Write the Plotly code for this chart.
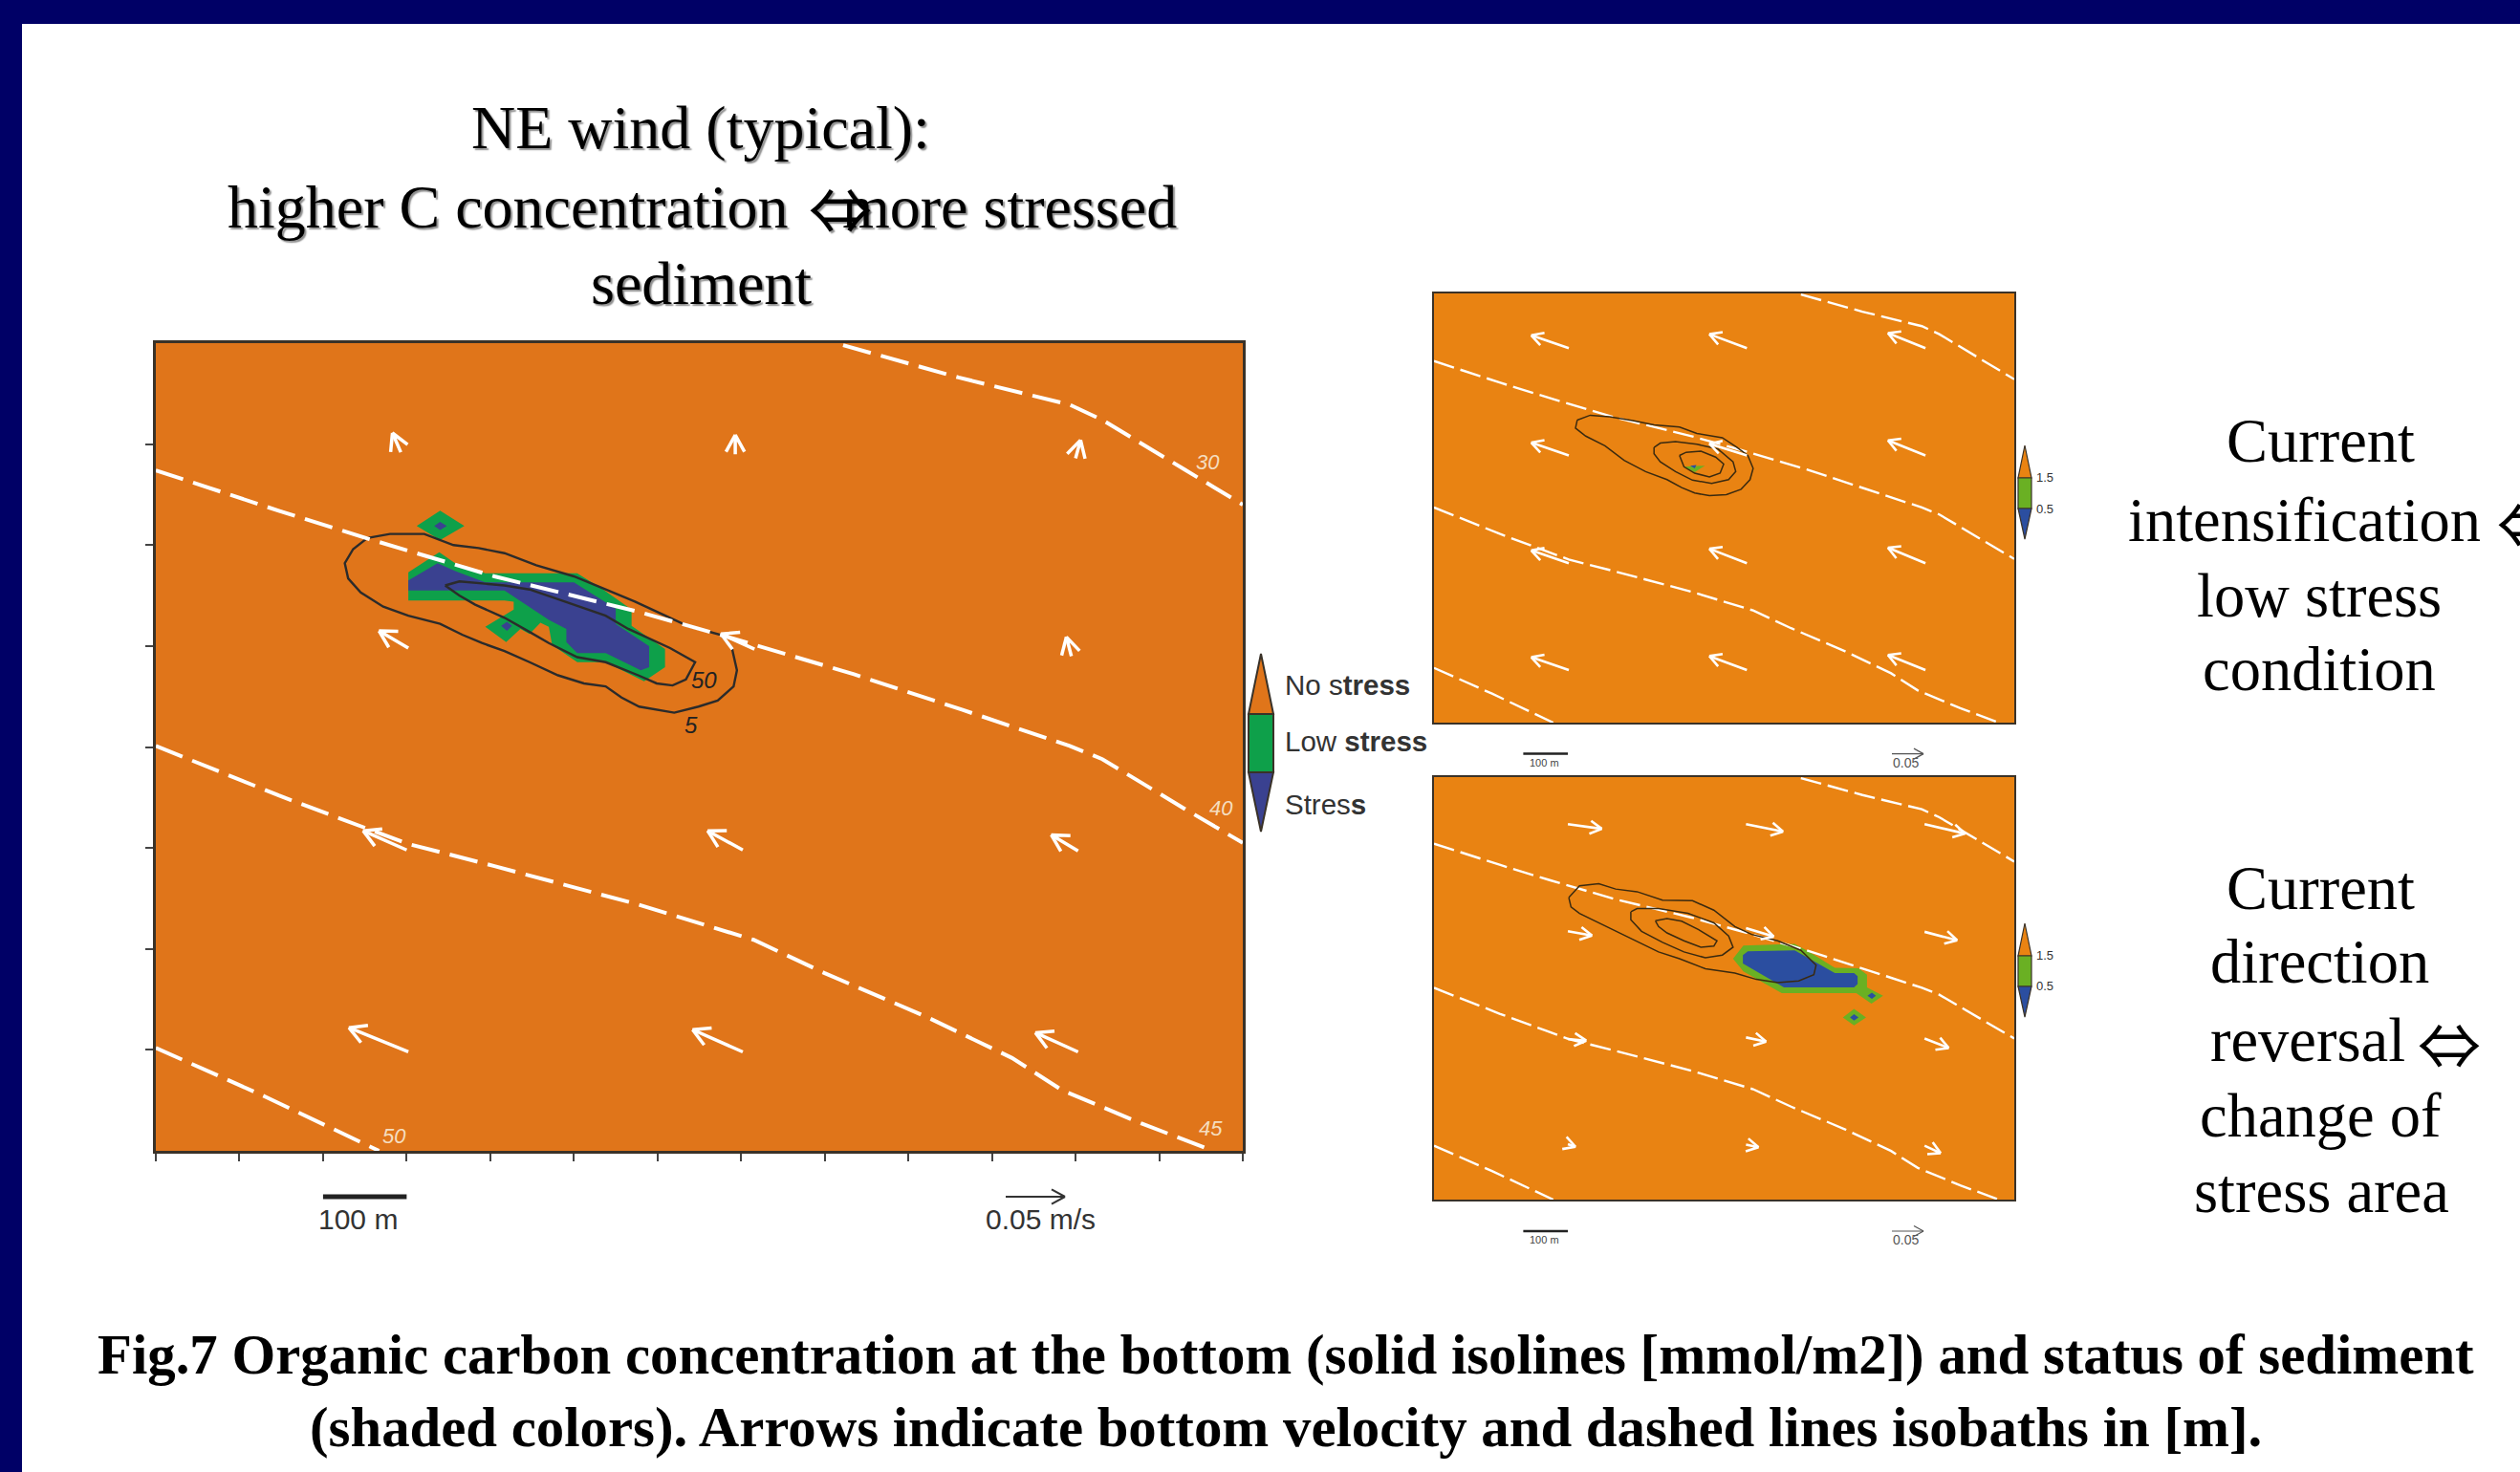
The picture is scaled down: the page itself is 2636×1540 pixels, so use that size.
import plotly.graph_objects as go

W, H = 2636, 1540
NAVY = "#000066"

# ---- shared isobaths (x, y in metres) ----
ISO_30 = [(822,798),(960,766),(1093,739),(1132,724),(1230,675),(1300,640)]
ISO_40 = [(0,674),(147,634),(259,605),(405,569),(577,534),(680,510),(835,472),(964,437),(1093,401),(1132,388),(1230,339),(1300,305)]
ISO_45 = [(0,401),(147,352),(250,320),(302,304),(405,282),(577,244),(715,209),(800,176),(921,133),(1024,92),(1084,60),(1179,27),(1265,0)]
ISO_50 = [(0,102),(130,54),(267,0)]
ISOBATHS = [ISO_30, ISO_40, ISO_45, ISO_50]
ISO_LABELS = [("30",1258,682),("40",1274,339),("45",1262,22),("50",285,15)]

# ---- main panel ----
MAIN_C5 = [(253,607),(280,611),(321,611),(356,600),(386,597),(417,592),(455,580),(500,569),(538,556),(573,544),(607,531),(636,520),(676,511),(689,498),(695,476),(691,460),(672,446),(649,440),(620,434),(578,440),(557,449),(538,460),(512,463),(481,471),(447,484),(417,495),(390,503),(367,511),(340,522),(302,530),(272,539),(245,553),(230,567),(226,582),(236,596),(253,607)]
MAIN_C50 = [(346,560),(363,564),(417,560),(447,556),(500,541),(538,530),(565,517),(588,508),(615,498),(645,484),(634,467),(618,461),(599,463),(577,471),(538,484),(504,489),(470,503),(447,514),(417,528),(382,541),(363,550),(346,560)]
MAIN_GREEN = [
    [(302,573),(339,593),(358,582),(394,572),(504,572),(535,556),(569,536),(569,520),(609,497),(609,479),(584,465),(538,484),(504,484),(474,501),(470,519),(460,523),(447,512),(436,517),(419,504),(394,519),(428,536),(428,544),(417,545),(302,545)],
    [(312,619),(340,634),(369,619),(340,605)],
]
MAIN_BLUE = [
    [(302,565),(337,582),(359,574),(394,563),(500,563),(550,537),(550,522),(590,500),(590,479),(580,476),(538,493),(504,493),(491,504),(491,517),(470,526),(432,547),(417,555),(302,555)],
    [(333,619),(340,623),(348,619),(340,615)],
    [(413,520),(420,524),(426,520),(420,515)],
]
MAIN_ARROW_X = [293,693,1100, 302,716,1095, 300,702,1103, 302,702,1103]
MAIN_ARROW_Y = [692,690,686, 498,497,490, 298,298,297, 98,98,98]
MAIN_ARROW_U = [-10,0,6, -35,-40,-6, -52,-42,-32, -71,-60,-51]
MAIN_ARROW_V = [19,19,18, 17,15,19, 19,19,16, 24,22,19]

# ---- upper right panel ----
UP_C1 = [(321,564),(350,573),(393,570),(445,563),(493,555),(550,551),(589,539),(646,531),(679,513),(703,498),(715,474),(708,453),(688,435),(655,425),(617,423),(584,428),(555,438),(522,453),(474,468),(426,489),(383,516),(340,534),(317,549),(321,564)]
UP_C2 = [(493,513),(507,521),(541,524),(589,519),(636,510),(670,486),(676,468),(660,453),(622,446),(579,452),(541,468),(507,486),(493,501),(493,513)]
UP_C3 = [(550,498),(565,504),(598,506),(631,495),(649,482),(641,465),(617,458),(584,465),(560,477),(550,498)]
UP_GREEN = [[(560,477),(607,479),(584,467)]]
UP_BLUE = [[(574,479),(588,480),(584,474)]]
UP_ARROW_X = [302,701,1101]*4
UP_ARROW_Y = [698]*3 + [498]*3 + [297]*3 + [98]*3
UP_ARROW_U = [-84]*12
UP_ARROW_V = [24,26,28, 24,22,28, 24,27,29, 24,26,28]

# ---- lower right panel ----
LOW_C1 = [(302,572),(326,594),(369,598),(407,588),(455,583),(512,567),(579,566),(627,548),(674,517),(712,502),(770,490),(822,472),(856,444),(851,426),(817,414),(770,411),(722,417),(674,429),(608,437),(550,456),(503,469),(445,493),(379,520),(326,542),(307,554),(302,572)]
LOW_C2 = [(441,545),(455,551),(503,551),(569,542),(627,524),(660,499),(670,478),(646,463),(608,458),(560,469),(512,487),(465,508),(441,530),(441,545)]
LOW_C3 = [(496,528),(522,532),(555,527),(593,511),(634,490),(627,480),(598,478),(560,490),(522,505),(503,517),(496,528)]
LOW_GREEN = [
    [(670,456),(693,481),(808,484),(841,469),(898,439),(951,438),(970,426),(970,402),(1006,386),(980,371),(946,391),(779,391),(693,432)],
    [(916,345),(941,361),(968,345),(941,330)],
]
LOW_BLUE = [
    [(692,463),(703,470),(808,472),(898,429),(941,429),(949,423),(949,408),(941,402),(784,402),(692,447)],
    [(971,386),(981,392),(990,386),(981,380)],
    [(932,345),(941,351),(951,345),(941,339)],
]
LOW_ARROW_X = [300,699,1099, 300,699,1099, 300,699,1099, 300,699,1099]
LOW_ARROW_Y = [711,711,711, 508,514,507, 304,307,305, 105,104,102]
LOW_ARROW_U = [76,83,91, 54,62,73, 41,45,54, 17,28,36]
LOW_ARROW_V = [-9,-14,-18, -8,-16,-16, -3,-8,-18, -5,-5,-14]

# ---- text ----
CAPTION_1 = "Fig.7 Organic carbon concentration at the bottom (solid isolines [mmol/m2]) and status of sediment"
CAPTION_2 = "(shaded colors). Arrows indicate bottom velocity and dashed lines isobaths in [m]."

# panel geometry in page pixels: left, right, top, bottom
PANELS = {
    "x":  dict(box=(163, 1300, 359, 1204), orange="#E0751A", green="#0EA04A", blue="#3A4190"),
    "x2": dict(box=(1500, 2107, 307, 756), orange="#E98312", green="#6AB023", blue="#2B4EA0"),
    "x3": dict(box=(1500, 2107, 813, 1255), orange="#E98312", green="#6AB023", blue="#2B4EA0"),
}

fig = go.Figure()


def xy(points):
    return [p[0] for p in points], [p[1] for p in points]


def add_poly(ax, points, color):
    x, y = xy(points)
    fig.add_trace(go.Scatter(x=x, y=y, mode="lines", fill="toself", fillcolor=color,
                             line=dict(width=0, color=color), xaxis=ax[0], yaxis=ax[1],
                             hoverinfo="skip", showlegend=False))


def add_line(ax, points, color, width, dash=None):
    x, y = xy(points)
    fig.add_trace(go.Scatter(x=x, y=y, mode="lines", line=dict(color=color, width=width, dash=dash),
                             xaxis=ax[0], yaxis=ax[1], hoverinfo="skip", showlegend=False))


def add_arrows(ax, box, xs, ys, us, vs, head, width):
    sx = (box[1] - box[0]) / 1300
    sy = (box[3] - box[2]) / 800
    px, py = [], []
    for x, y, u, v in zip(xs, ys, us, vs):
        tx, ty = x + u, y + v
        dx, dy = u * sx, v * sy
        n = (dx * dx + dy * dy) ** 0.5
        dx, dy = dx / n, dy / n
        for c, s in ((0.875, 0.485), (0.875, -0.485)):
            wx = -(dx * c - dy * s) * head / sx
            wy = -(dx * s + dy * c) * head / sy
            if s > 0:
                px += [x, tx, tx + wx, None]
                py += [y, ty, ty + wy, None]
            else:
                px += [tx, tx + wx, None]
                py += [ty, ty + wy, None]
    fig.add_trace(go.Scatter(x=px, y=py, mode="lines", line=dict(color="white", width=width),
                             xaxis=ax[0], yaxis=ax[1], hoverinfo="skip", showlegend=False))


AX_MAIN, AX_UP, AX_LOW = ("x", "y"), ("x2", "y2"), ("x3", "y3")

for poly in MAIN_GREEN:
    add_poly(AX_MAIN, poly, PANELS["x"]["green"])
for poly in MAIN_BLUE:
    add_poly(AX_MAIN, poly, PANELS["x"]["blue"])
for c in (MAIN_C5, MAIN_C50):
    add_line(AX_MAIN, c, "#2b2b2b", 2.4)
for iso in ISOBATHS:
    add_line(AX_MAIN, iso, "white", 4, "30px,11px")
add_arrows(AX_MAIN, PANELS["x"]["box"], MAIN_ARROW_X, MAIN_ARROW_Y, MAIN_ARROW_U, MAIN_ARROW_V, 20, 3.5)

for poly in UP_GREEN:
    add_poly(AX_UP, poly, PANELS["x2"]["green"])
for poly in UP_BLUE:
    add_poly(AX_UP, poly, PANELS["x2"]["blue"])
for iso in ISOBATHS:
    add_line(AX_UP, iso, "white", 2.4, "22px,7px")
for c in (UP_C1, UP_C2, UP_C3):
    add_line(AX_UP, c, "#3a2a10", 1.5)
add_arrows(AX_UP, PANELS["x2"]["box"], UP_ARROW_X, UP_ARROW_Y, UP_ARROW_U, UP_ARROW_V, 14, 2.6)

for poly in LOW_GREEN:
    add_poly(AX_LOW, poly, PANELS["x3"]["green"])
for poly in LOW_BLUE:
    add_poly(AX_LOW, poly, PANELS["x3"]["blue"])
for iso in ISOBATHS:
    add_line(AX_LOW, iso, "white", 2.4, "22px,7px")
for c in (LOW_C1, LOW_C2, LOW_C3):
    add_line(AX_LOW, c, "#3a2a10", 1.5)
add_arrows(AX_LOW, PANELS["x3"]["box"], LOW_ARROW_X, LOW_ARROW_Y, LOW_ARROW_U, LOW_ARROW_V, 14, 2.6)


def px(v):
    return v / W


def py(v):
    return 1 - v / H


layout_axes = {}
for key, p in PANELS.items():
    l, r, t, b = p["box"]
    suffix = key[1:]
    main = key == "x"
    layout_axes["xaxis" + suffix] = dict(
        domain=[px(l), px(r)], range=[0, 1300], anchor="y" + suffix,
        showgrid=False, zeroline=False, showticklabels=False,
        showline=True, mirror=True, linecolor="#3a3228", linewidth=2.5 if main else 2,
        ticks="outside" if main else "", ticklen=8, tickwidth=1.5, tickcolor="#444",
        tickmode="array", tickvals=[i * 100 for i in range(14)] if main else [],
    )
    layout_axes["yaxis" + suffix] = dict(
        domain=[py(b), py(t)], range=[0, 800], anchor="x" + suffix,
        showgrid=False, zeroline=False, showticklabels=False,
        showline=True, mirror=True, linecolor="#3a3228", linewidth=2.5 if main else 2,
        ticks="outside" if main else "", ticklen=8, tickwidth=1.5, tickcolor="#444",
        tickmode="array", tickvals=[i * 100 for i in range(1, 8)] if main else [],
    )

shapes = [
    dict(type="rect", xref="paper", yref="paper", x0=0, x1=1, y0=py(25), y1=1,
         fillcolor=NAVY, line_width=0, layer="below"),
    dict(type="rect", xref="paper", yref="paper", x0=0, x1=px(23), y0=0, y1=1,
         fillcolor=NAVY, line_width=0, layer="below"),
]
for key, p in PANELS.items():
    l, r, t, b = p["box"]
    shapes.append(dict(type="rect", xref="paper", yref="paper", x0=px(l), x1=px(r), y0=py(b), y1=py(t),
                       fillcolor=p["orange"], line_width=0, layer="below"))


def colorbar(p, cx, half, apex_top, base, mid, apex_bot, lw):
    outline = "#3a3228"
    path = lambda pts: "M " + " L ".join(f"{px(a)},{py(b)}" for a, b in pts) + " Z"
    shapes.append(dict(type="path", xref="paper", yref="paper", fillcolor=p["orange"],
                       line=dict(color=outline, width=lw),
                       path=path([(cx, apex_top), (cx + half, base), (cx - half, base)])))
    shapes.append(dict(type="path", xref="paper", yref="paper", fillcolor=p["green"],
                       line=dict(color=outline, width=lw),
                       path=path([(cx - half, base), (cx + half, base), (cx + half, mid), (cx - half, mid)])))
    shapes.append(dict(type="path", xref="paper", yref="paper", fillcolor=p["blue"],
                       line=dict(color=outline, width=lw),
                       path=path([(cx - half, mid), (cx + half, mid), (cx, apex_bot)])))


colorbar(PANELS["x"], 1319, 13, 684, 747, 808, 870, 2)
colorbar(PANELS["x2"], 2118, 7, 466, 500, 532, 564, 1.2)
colorbar(PANELS["x3"], 2118, 7, 966, 1000, 1032, 1064, 1.2)


def ref_arrow(xa, xb, y, head, width, color):
    shapes.append(dict(type="line", xref="paper", yref="paper", x0=px(xa), x1=px(xb), y0=py(y), y1=py(y),
                       line=dict(color=color, width=width)))
    for d in (-1, 1):
        shapes.append(dict(type="line", xref="paper", yref="paper", x0=px(xb - head), x1=px(xb),
                           y0=py(y + d * head * 0.55), y1=py(y), line=dict(color=color, width=width)))


# scale bars: 100 m along each panel's own x axis
for xref, y, lw in (("x", 1252, 5), ("x2", 788.6, 2.5), ("x3", 1288, 2.5)):
    shapes.append(dict(type="line", xref=xref, yref="paper", x0=200, x1=300, y0=py(y), y1=py(y),
                       line=dict(color="#222222", width=lw)))
ref_arrow(1052, 1114, 1252, 14, 2, "#333333")
ref_arrow(1979, 2012, 788.6, 10, 1.2, "#555555")
ref_arrow(1979, 2012, 1288, 10, 1.2, "#555555")

ann = []


def text(t, x, y, size, family="Liberation Serif", color="black", anchor="center", shadow=None, xref="paper", yref="paper", italic=False):
    f = dict(size=size, family=family, color=color)
    if shadow:
        f["shadow"] = shadow
    if italic:
        f["style"] = "italic"
    ann.append(dict(text=t, x=px(x) if xref == "paper" else x, y=py(y) if yref == "paper" else y,
                    xref=xref, yref=yref, xanchor=anchor, yanchor="middle", showarrow=False, font=f))


SHADOW = "2px 2px 1.5px rgba(0,0,0,0.45)"
ARROW_FONT = "Noto Sans CJK JP"
text("NE wind (typical):", 733, 133, 64, shadow=SHADOW)
text("higher C concentration", 236, 216, 64, anchor="left", shadow=SHADOW)
text("⇔", 879, 216, 66, family=ARROW_FONT, shadow=SHADOW)
text("more stressed", 879, 216, 64, anchor="left", shadow=SHADOW)
text("sediment", 733, 296, 64, shadow=SHADOW)

for t, x, y in (("Current", 2427, 461), ("intensification", 2410, 544), ("low stress", 2426, 623), ("condition", 2426, 700),
                ("Current", 2427, 929), ("direction", 2426, 1006), ("change of", 2427, 1167), ("stress area", 2428, 1246)):
    text(t, x, y, 64.5)
text("⇔", 2610, 545, 66, family=ARROW_FONT, anchor="left")
text("reversal", 2310, 1088, 64.5, anchor="left")
text("⇔", 2562, 1090, 66, family=ARROW_FONT)

text("<b>" + CAPTION_1 + "</b>", 1345, 1417, 58.8)
text("<b>" + CAPTION_2 + "</b>", 1345, 1493, 58.8)

SANS = "Liberation Sans"
text("No s<b>tress</b>", 1342, 717, 29.5, SANS, "#333333", "left")
text("Low <b>stress</b>", 1342, 776, 29.5, SANS, "#333333", "left")
text("Stres<b>s</b>", 1342, 841, 29.5, SANS, "#333333", "left")
text("100 m", 374, 1275, 30, SANS, "#333333")
text("0.05 m/s", 1088, 1275, 30, SANS, "#333333")
for y in (798, 1297):
    text("100 m", 1615, y, 11, SANS, "#444444")
    text("0.05", 1993, y, 14, SANS, "#555555")
for y15, y05 in ((499.6, 532), (999.5, 1031)):
    text("1.5", 2128, y15, 13, SANS, "#333333", "left")
    text("0.5", 2128, y05, 13, SANS, "#333333", "left")

for t, x, y in ISO_LABELS:
    text(t, x, y, 22, SANS, "#F5DDBF", xref="x", yref="y", italic=True)
text("50", 656, 466, 24, SANS, "#222222", xref="x", yref="y", italic=True)
text("5", 640, 422, 24, SANS, "#222222", xref="x", yref="y", italic=True)

fig.update_layout(width=W, height=H, margin=dict(l=0, r=0, t=0, b=0), paper_bgcolor="white",
                  plot_bgcolor="rgba(0,0,0,0)", showlegend=False, shapes=shapes, annotations=ann,
                  **layout_axes)

fig.write_html("out.html", config=dict(displayModeBar=False),
               post_script="document.body.style.margin='0';document.body.style.overflow='hidden';")
